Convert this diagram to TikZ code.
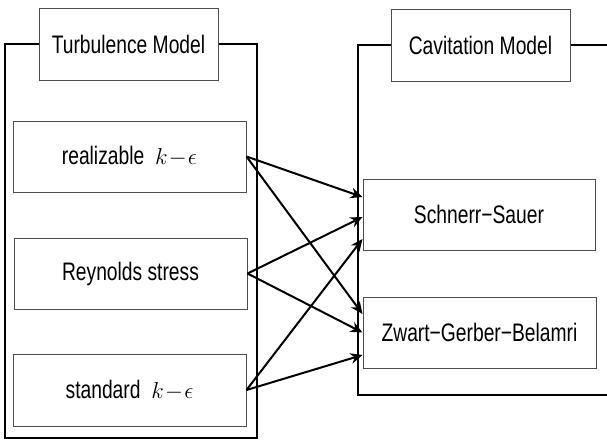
\documentclass[tikz,border=0pt]{standalone}
\usepackage{fontspec}
\setmainfont[FakeStretch=0.76]{Liberation Sans}
\usetikzlibrary{calc,arrows.meta}
\begin{document}
\begin{tikzpicture}[x=0.75pt,y=-0.75pt,
  box/.style={draw=black!70,line width=0.75pt,inner sep=0pt,align=center,
    font=\fontsize{19}{21}\selectfont},
  frame/.style={line width=1.4pt,black},
  conn/.style={line width=1.5pt,-{Stealth[length=9pt,width=8pt]}}]
\useasboundingbox (0,0) rectangle (607,444);
\node[box,minimum width=134.25pt,minimum height=54pt] (tm) at (128.5,44) {Turbulence Model};
\node[box,minimum width=174.75pt,minimum height=53.25pt] (re) at (129.5,156.5) {realizable \ $k\!-\!\epsilon$};
\node[box,minimum width=174.75pt,minimum height=53.25pt] (rs) at (130.5,273.5) {Reynolds stress};
\node[box,minimum width=174.75pt,minimum height=54pt] (st) at (129.5,390) {standard \ $k\!-\!\epsilon$};
\node[box,minimum width=134.25pt,minimum height=54pt] (cm) at (480.5,45) {Cavitation Model};
\node[box,minimum width=174pt,minimum height=53.25pt] (ss) at (479,214.5) {Schnerr−Sauer};
\node[box,minimum width=174.75pt,minimum height=53.25pt] (zg) at (479.5,332.5) {Zwart−Gerber−Belamri};
% frames
\coordinate (lf1) at (5,44);
\coordinate (lf2) at (5,438);
\coordinate (lf3) at (257,438);
\coordinate (lf4) at (257,44);
\draw[frame] (tm.west) -- (lf1) -- (lf2) -- (lf3) -- (lf4) -- (tm.east);
\coordinate (rf1) at (358,45);
\coordinate (rf2) at (358,395);
\coordinate (rf3) at (610,395);
\coordinate (rf4) at (610,45);
\draw[frame] (cm.west) -- (rf1) -- (rf2) -- (rf3);
\draw[frame] (cm.east) -- (rf4);
% connectors
\draw[conn] (re.east) -- ($(ss.west)+(0,-17.5)$);
\draw[conn] (re.east) -- ($(zg.west)+(0,-18.5)$);
\draw[conn] (rs.east) -- ($(ss.west)+(0,2.5)$);
\draw[conn] (rs.east) -- (zg.west);
\draw[conn] (st.east) -- ($(ss.west)+(0,24.5)$);
\draw[conn] (st.east) -- ($(zg.west)+(0,22.5)$);
\end{tikzpicture}
\end{document}
